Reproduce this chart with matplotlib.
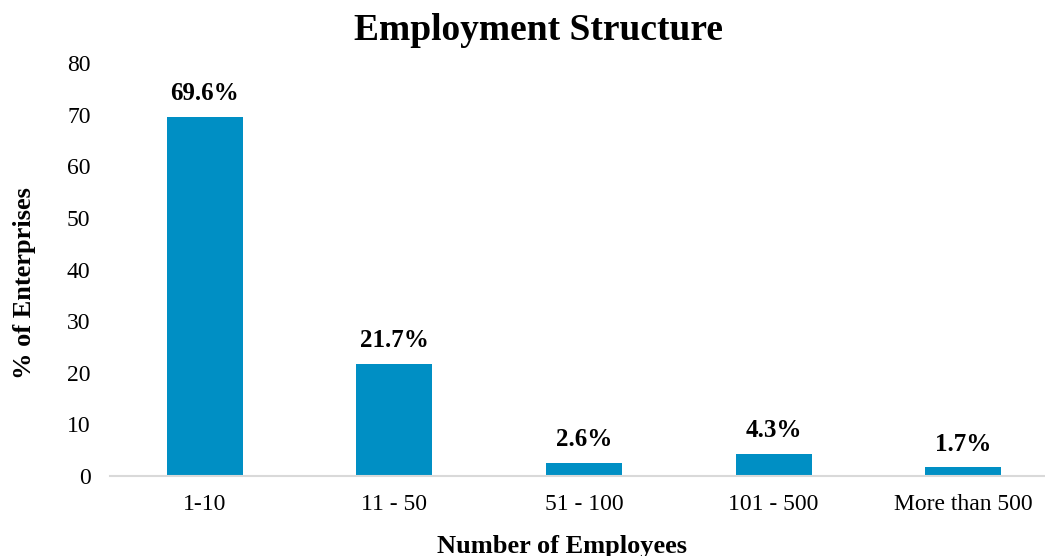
import matplotlib.pyplot as plt

categories = ['1-10', '11 - 50', '51 - 100', '101 - 500', 'More than 500']
shares = [69.6, 21.7, 2.6, 4.3, 1.7]
yticks = [0, 10, 20, 30, 40, 50, 60, 70, 80]

plt.rcParams['font.family'] = ['Liberation Serif', 'DejaVu Serif']

W, H = 1045, 556
fig = plt.figure(figsize=(W / 100, H / 100), dpi=100)
# axes run slightly past the right edge of the canvas
ax = fig.add_axes([110 / W, 80 / H, 948 / W, 413 / H])

x = range(len(categories))
ax.bar(x, shares, width=0.4, color='#008FC4', zorder=2)

for xi, v in zip(x, shares):
    ax.annotate('%.1f%%' % v, (xi, v), xytext=(0, 12), textcoords='offset points',
                ha='center', va='baseline', fontsize=18, fontweight='bold')

ax.set_xlim(-0.5, len(categories) - 0.5)
ax.set_ylim(0, 80)
ax.set_yticks(yticks)
ax.set_xticks(list(x))
ax.set_xticklabels(categories)
ax.tick_params(axis='both', length=0, labelsize=17)
ax.tick_params(axis='y', pad=14)
ax.tick_params(axis='x', pad=13)

for side in ['left', 'right', 'top']:
    ax.spines[side].set_visible(False)
ax.spines['bottom'].set_color('#D9D9D9')
ax.spines['bottom'].set_linewidth(1.5)

fig.text(538 / W, 1 - 40 / H, 'Employment Structure', ha='center', va='baseline',
         fontsize=27, fontweight='bold')
fig.text(562 / W, 1 - 553 / H, 'Number of Employees', ha='center', va='baseline',
         fontsize=19, fontweight='bold')
fig.text(25 / W, 1 - 283 / H, '% of Enterprises', ha='center', va='center',
         rotation=90, fontsize=19, fontweight='bold')

fig.savefig('out.png', dpi=100)
